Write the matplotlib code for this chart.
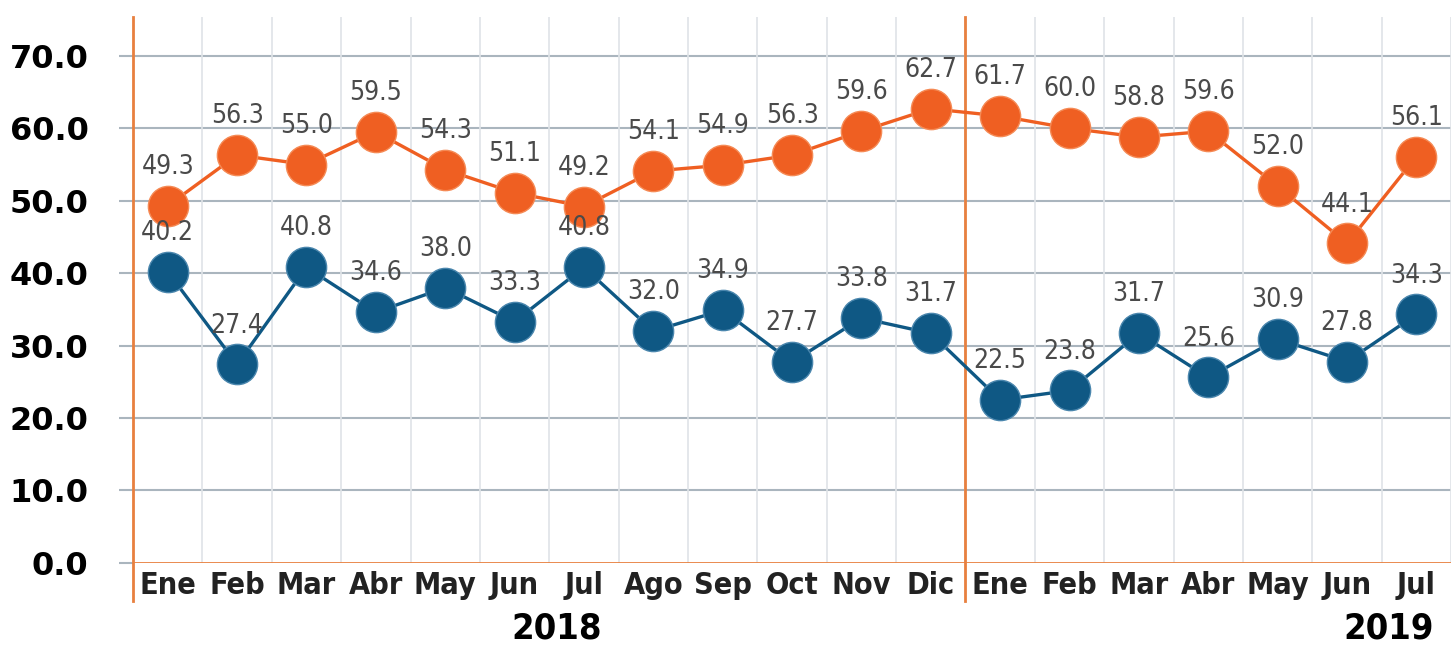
import matplotlib.pyplot as plt

# === DATOS ===
meses = ["Ene", "Feb", "Mar", "Abr", "May", "Jun", "Jul", "Ago", "Sep", "Oct", "Nov", "Dic",
         "Ene", "Feb", "Mar", "Abr", "May", "Jun", "Jul"]
serie_naranja = [49.3, 56.3, 55.0, 59.5, 54.3, 51.1, 49.2, 54.1, 54.9, 56.3, 59.6, 62.7,
                 61.7, 60.0, 58.8, 59.6, 52.0, 44.1, 56.1]
serie_azul = [40.2, 27.4, 40.8, 34.6, 38.0, 33.3, 40.8, 32.0, 34.9, 27.7, 33.8, 31.7,
              22.5, 23.8, 31.7, 25.6, 30.9, 27.8, 34.3]
y_ticks = [0, 10, 20, 30, 40, 50, 60, 70]
anios = ["2018", "2019"]

NARANJA = "#ef5f22"
AZUL = "#0f5884"
EJE = "#e8803f"

fig = plt.figure(figsize=(14.54, 6.47), dpi=100)
ax = fig.add_axes([0.0915, 0.130, 0.9065, 0.843])

x = list(range(len(meses)))
ax.set_xlim(-0.5, len(meses) - 0.5)
ax.set_ylim(0, 75.3)

# cuadricula
for v in y_ticks[1:]:
    ax.axhline(v, color="#aab5be", lw=1.5, zorder=1)
for i in range(len(meses) + 1):
    ax.axvline(i - 0.5, color="#dfe3e7", lw=1.2, zorder=1)

# ejes naranjas (eje izquierdo y separador de años)
ax.axhline(0, color=EJE, lw=2, zorder=2)
ax.plot([-0.5, -0.5], [-5.3, 75.3], color=EJE, lw=2, clip_on=False, zorder=2)
ax.plot([11.5, 11.5], [-5.3, 75.3], color=EJE, lw=2, clip_on=False, zorder=2)

for s in ax.spines.values():
    s.set_visible(False)

# series
ax.plot(x, serie_naranja, color=NARANJA, lw=2.4, marker="o", ms=29,
        markerfacecolor=NARANJA, markeredgecolor="#f58a55", markeredgewidth=1, zorder=4)
ax.plot(x, serie_azul, color=AZUL, lw=2.4, marker="o", ms=29,
        markerfacecolor=AZUL, markeredgecolor="#4a86ad", markeredgewidth=1, zorder=4)

for serie in (serie_naranja, serie_azul):
    for xi, v in zip(x, serie):
        ax.annotate(f"{v:.1f}", (xi, v), xytext=(0, 28), textcoords="offset points",
                    ha="center", va="center", fontsize=19, color="#4a4a4a",
                    fontstretch="condensed", zorder=5)

# ticks
ax.set_yticks(y_ticks)
ax.set_yticklabels([f"{v:.1f}" for v in y_ticks], fontsize=23, fontweight="bold")
ax.tick_params(axis="y", length=10, width=1.5, color="#aab5be", pad=22)
ax.set_xticks(x)
ax.set_xticklabels(meses, fontsize=22, fontstretch="condensed", fontweight="bold",
                   color="#222222")
ax.tick_params(axis="x", length=0, pad=6)

ax.text(5.6, -9.0, anios[0], ha="center", va="center", fontsize=26, fontweight="bold",
        fontstretch="condensed", clip_on=False)
ax.text(17.6, -9.0, anios[1], ha="center", va="center", fontsize=26, fontweight="bold",
        fontstretch="condensed", clip_on=False)

fig.savefig("out.png", dpi=100, facecolor="white")
